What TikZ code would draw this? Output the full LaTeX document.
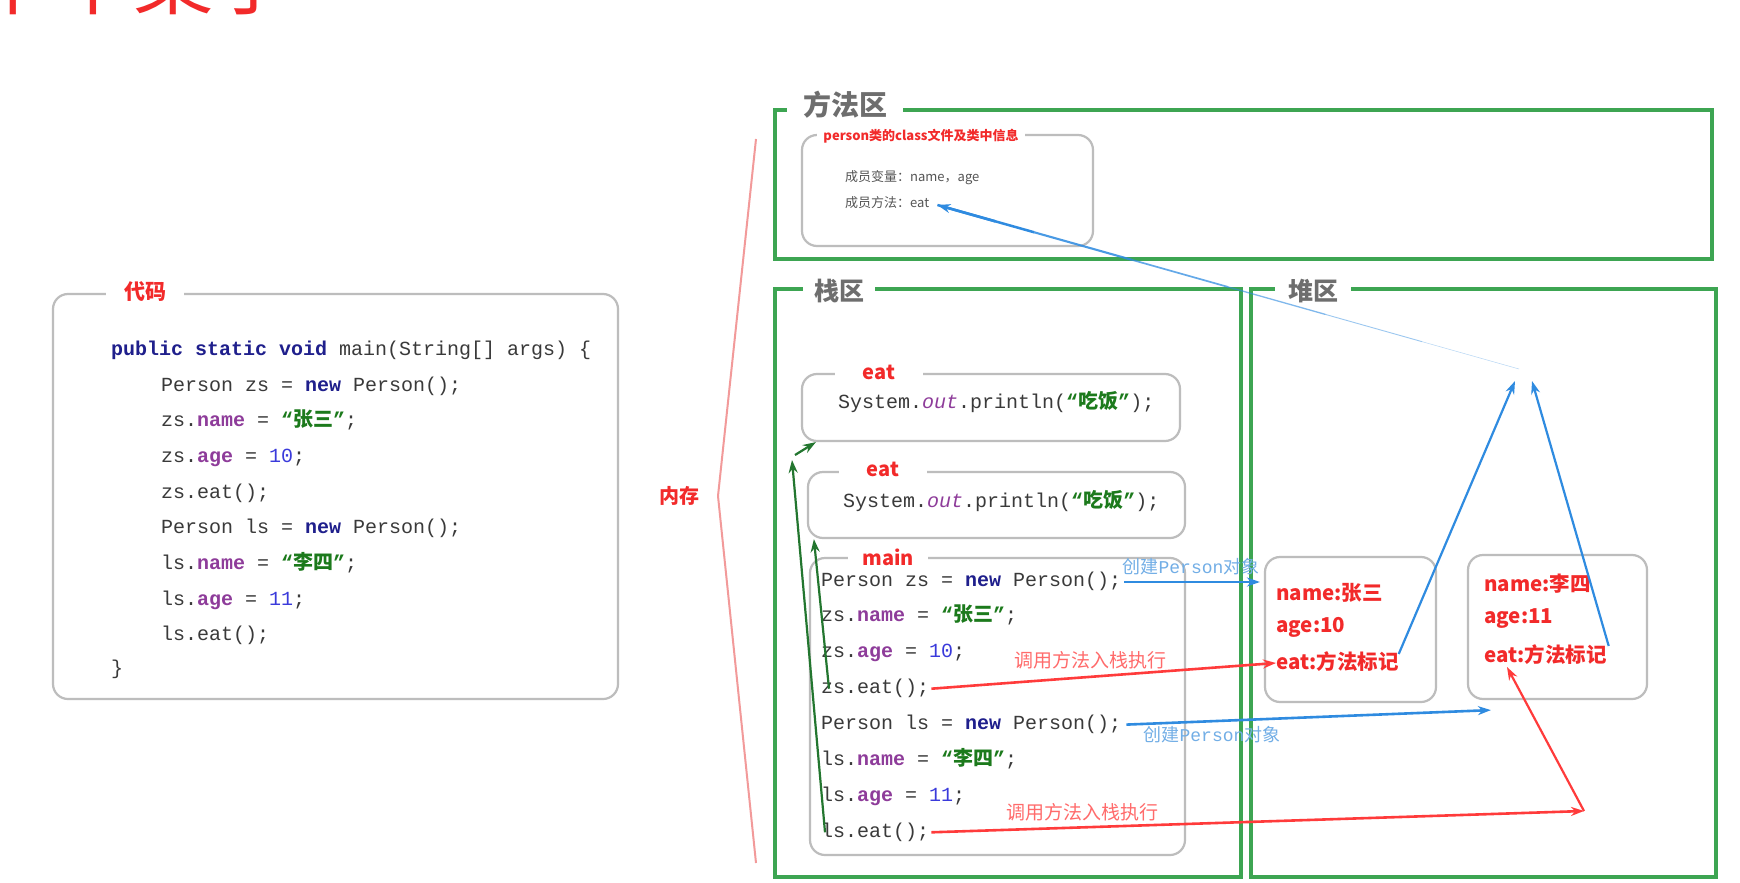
\documentclass[tikz,border=0pt]{standalone}
\usepackage{fontspec}
\setmainfont{Liberation Sans}
\newfontfamily\cjk{Noto Sans CJK SC}
\newfontfamily\codefont{Liberation Mono}
\usetikzlibrary{arrows.meta, positioning, calc}

\definecolor{areagreen}{HTML}{3DA552}
\definecolor{framegray}{HTML}{BDBDBD}
\definecolor{titlegray}{HTML}{6E6E6E}
\definecolor{markred}{HTML}{F22A2A}
\definecolor{notered}{HTML}{FF6B6B}
\definecolor{callred}{HTML}{FF3B3B}
\definecolor{linkblue}{HTML}{2F8BE0}
\definecolor{noteblue}{HTML}{72AEE6}
\definecolor{callgreen}{HTML}{23762F}
\definecolor{kwnavy}{HTML}{1F1F8C}
\definecolor{fieldpurple}{HTML}{8E3C9A}
\definecolor{numblue}{HTML}{3A3ADB}
\definecolor{strgreen}{HTML}{1C7A1C}
\definecolor{codegray}{HTML}{3A3A3A}
\definecolor{membergray}{HTML}{555555}
\definecolor{bracketred}{HTML}{F29A9A}

\newcommand{\zh}[1]{{\cjk #1}}
\newcommand{\kwd}[1]{{\bfseries\color{kwnavy}#1}}
\newcommand{\fld}[1]{{\bfseries\color{fieldpurple}#1}}
\newcommand{\fldit}[1]{{\itshape\color{fieldpurple}#1}}
\newcommand{\numlit}[1]{{\color{numblue}#1}}
\newcommand{\strlit}[1]{{\bfseries\color{strgreen}“{\cjk #1}”}}

\begin{document}
\begin{tikzpicture}[x=1pt, y=-1pt, >={Stealth[length=13pt, width=9pt]},
  codeline/.style={anchor=west, inner sep=0pt, text=codegray,
    font=\codefont\fontsize{20}{24}\selectfont, text height=15pt, text depth=5pt},
  roundframe/.style={draw=framegray, line width=2.2pt, rounded corners=15pt},
  areaframe/.style={draw=areagreen, line width=3.4pt},
  frametag/.style={fill=white, inner ysep=0pt, text=markred,
    font=\cjk\bfseries\fontsize{20}{24}\selectfont},
  areatag/.style={fill=white, inner ysep=0pt, text=titlegray,
    font=\cjk\bfseries\fontsize{25}{30}\selectfont},
  heaptext/.style={anchor=west, inner sep=0pt, text=markred,
    font=\cjk\bfseries\fontsize{20.5}{24}\selectfont}]
  \useasboundingbox (0,0) rectangle (1740,883);
  \fill[white] (0,0) rectangle (1740,883);

  % cut-off slide title
  \node[anchor=base west, inner sep=0pt, text=markred,
    font=\cjk\fontsize{80}{90}\selectfont] (pagetitle) at (-27,9) {单个案子};

  % code on the left
  \node[roundframe, minimum width=565, minimum height=405] (codebox) at (335.5,496.5) {};
  \node[frametag, inner xsep=18pt, font=\cjk\bfseries\fontsize{21}{24}\selectfont] (codetag) at (145,292) {代码};
  \node[codeline] (codehead) at (111,350) {\kwd{public static void} main(String[] args) \{};
  \foreach \i/\txt in {
    0/{Person zs = \kwd{new} Person();},
    1/{zs.\fld{name} = \strlit{张三};},
    2/{zs.\fld{age} = \numlit{10};},
    3/{zs.eat();},
    4/{Person ls = \kwd{new} Person();},
    5/{ls.\fld{name} = \strlit{李四};},
    6/{ls.\fld{age} = \numlit{11};},
    7/{ls.eat();}} {
    \node[codeline] (code\i) at (161,{386+35.7*\i}) {\txt};
    \node[codeline] (main\i) at (821,{581+35.9*\i}) {\txt};
  }
  \node[codeline] (codeend) at (111,669) {\}};

  % memory bracket
  \node[text=markred, font=\cjk\bfseries\fontsize{20}{24}\selectfont] (memtag) at (679,496) {内存};
  \coordinate (memtip) at (718,496);
  \draw[bracketred, line width=2pt] (756,139) -- (memtip) -- (756,863);

  % method area
  \node[areaframe, minimum width=937, minimum height=149] (methodarea) at (1243.5,184.5) {};
  \node[areatag, inner xsep=16pt, font=\cjk\bfseries\fontsize{28}{32}\selectfont] (methodtag) at (845,105) {方法区};
  \node[roundframe, minimum width=291, minimum height=111] (classbox) at (947.5,190.5) {};
  \node[frametag, inner xsep=6pt, font=\cjk\bfseries\fontsize{13}{15}\selectfont] (classtag) at (921,136) {person类的class文件及类中信息};
  \node[anchor=west, inner sep=0pt, text=membergray, font=\cjk\fontsize{13}{15}\selectfont] (membervar) at (845,178) {成员变量：name，age};
  \node[anchor=west, inner sep=0pt, text=membergray, font=\cjk\fontsize{13}{15}\selectfont] (membereat) at (845,203) {成员方法：eat};

  % stack area
  \node[areaframe, minimum width=466, minimum height=588] (stackarea) at (1008,583) {};
  \node[areatag, inner xsep=11pt] (stacktag) at (839,291) {栈区};
  \node[roundframe, minimum width=378, minimum height=67] (eatA) at (991,407.5) {};
  \node[frametag, inner xsep=28pt] (eatAtag) at (879,372) {eat};
  \node[codeline] (eatAline) at (838,403) {System.\fldit{out}.println(\strlit{吃饭});};
  \node[roundframe, minimum width=377, minimum height=66] (eatB) at (996.5,505) {};
  \node[frametag, inner xsep=28pt] (eatBtag) at (883,469) {eat};
  \node[codeline] (eatBline) at (843,502) {System.\fldit{out}.println(\strlit{吃饭});};
  \node[roundframe, minimum width=375, minimum height=297] (mainbox) at (997.5,706.5) {};
  \node[frametag, inner xsep=14pt] (maintag) at (888,557) {main};

  % heap area
  \node[areaframe, minimum width=465, minimum height=588] (heaparea) at (1483.5,583) {};
  \node[areatag, inner xsep=13pt] (heaptag) at (1313,291) {堆区};
  \node[roundframe, minimum width=171, minimum height=145] (objZS) at (1350.5,629.5) {};
  \node[heaptext] (zsName) at (1276,593) {name:张三};
  \node[heaptext] (zsAge) at (1276,627) {age:10};
  \node[heaptext] (zsEat) at (1276,662) {eat:方法标记};
  \node[roundframe, minimum width=179, minimum height=144] (objLS) at (1557.5,627) {};
  \node[heaptext] (lsName) at (1484,584) {name:李四};
  \node[heaptext] (lsAge) at (1484,619) {age:11};
  \node[heaptext] (lsEat) at (1484,655) {eat:方法标记};

  % pushing frames
  \draw[->, callgreen, line width=2.2pt] ($(main3.west)+(8,0)$) -- ($(eatB.south west)+(7,0)$);
  \coordinate (lsup) at (792,460);
  \draw[->, callgreen, line width=2.2pt] ($(main7.west)+(4,0)$) -- (lsup);
  \draw[->, callgreen, line width=2.2pt] ($(lsup)+(3,-5)$) -- ($(eatA.south west)+(15,0)$);

  % creating objects
  \draw[->, linkblue, line width=2.6pt] ($(main0.east)+(3,1)$) -- ($(main0.east -| objZS.west)+(-4,1)$);
  \node[text=noteblue, inner sep=0pt, font=\codefont\fontsize{18}{20}\selectfont] (newZS) at (1191,567) {\zh{创建}Person\zh{对象}};
  \draw[->, linkblue, line width=2.6pt] ($(main4.east)+(5,0)$) -- ($(objLS.south west)+(24,10)$);
  \node[text=noteblue, inner sep=0pt, font=\codefont\fontsize{18}{20}\selectfont] (newLS) at (1212,735) {\zh{创建}Person\zh{对象}};

  % calling eat
  \draw[->, callred, line width=2.6pt] ($(main3.east)+(2,0)$) -- ($(zsEat.west)+(0,1)$);
  \node[text=notered, inner sep=0pt, font=\cjk\fontsize{19}{22}\selectfont] (callZS) at (1090,660) {调用方法入栈执行};
  \coordinate (lsturn) at (1584,811);
  \draw[->, callred, line width=2.6pt] ($(main7.east)+(2,0)$) -- (lsturn);
  \draw[->, callred, line width=2.2pt] (lsturn) -- ($(lsEat.west)+(23,12)$);
  \node[text=notered, inner sep=0pt, font=\cjk\fontsize{19}{22}\selectfont] (callLS) at (1082,812) {调用方法入栈执行};

  % method marks to the class info
  \coordinate (zstip) at (1515,381);
  \coordinate (lstip) at (1532,381);
  \coordinate (marktop) at (1519,369);
  \coordinate (eattip) at ($(membereat.east)+(8,2)$);
  \draw[->, linkblue, line width=2.2pt] ($(zsEat.east)+(0,-8)$) -- (zstip);
  \draw[->, linkblue, line width=2.2pt] ($(lsEat.east)+(2,-9)$) -- (lstip);
  \foreach \k in {0,...,5} {
    \pgfmathsetmacro\segw{0.5+0.4*\k}
    \pgfmathsetmacro\segop{0.35+0.13*\k}
    \pgfmathsetmacro\segend{(\k+1)/6}
    \draw[linkblue, line width=\segw pt, opacity=\segop]
      ($(marktop)!\k/6!(eattip)$) -- ($(marktop)!\segend!(eattip)$);
  }
  \draw[->, linkblue, line width=2.6pt] ($(marktop)!0.9!(eattip)$) -- (eattip);
\end{tikzpicture}
\end{document}
